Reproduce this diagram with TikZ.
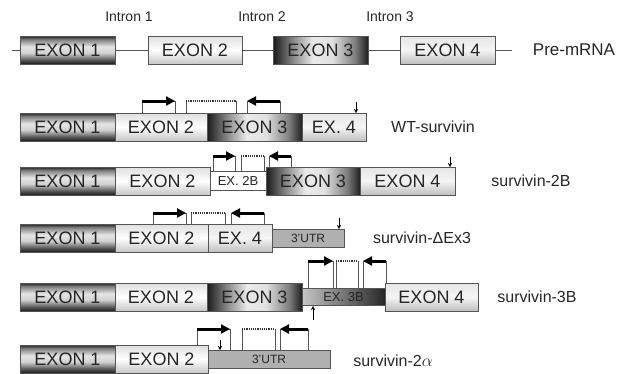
\documentclass[tikz,border=0pt]{standalone}
\usepackage{fontspec}
\setmainfont{Liberation Sans}
\usetikzlibrary{arrows.meta,positioning}
\definecolor{inkgray}{HTML}{262626}
\definecolor{linegray}{HTML}{555555}
\pgfdeclareverticalshading{exononeshade}{100bp}{color(0bp)=(black!90);
  color(25bp)=(black!90); color(31bp)=(black!70); color(45bp)=(white!82!black);
  color(56bp)=(white!90!black); color(69bp)=(black!50); color(75bp)=(black!88);
  color(100bp)=(black!88)}
\pgfdeclarehorizontalshading{exonthreeshade}{100bp}{color(0bp)=(black!90);
  color(25bp)=(black!90); color(36bp)=(black!45); color(46bp)=(white!92!black);
  color(56bp)=(white!88!black); color(68bp)=(black!50); color(75bp)=(black!88);
  color(100bp)=(black!88)}

\begin{document}
\begin{tikzpicture}[x=1pt, y=-1pt,
  exbox/.style={
    rectangle, draw=linegray, thin, outer sep=0pt, inner sep=0pt,
    minimum height=28pt, text=inkgray,
    font=\fontsize{18}{18}\selectfont
  },
  exone/.style={exbox, minimum width=95pt, shade, shading=exononeshade},
  extwo/.style={exbox, minimum width=93pt,
    top color=gray!25, bottom color=gray!45, middle color=white},
  exthree/.style={exbox, minimum width=95pt, shade, shading=exonthreeshade},
  exfour/.style={exbox, minimum width=94pt,
    top color=gray!20, bottom color=gray!50, middle color=gray!8},
  smallex/.style={exbox, minimum height=18pt,
    font=\fontsize{13}{13}\selectfont},
  utr/.style={exbox, minimum height=18pt, fill=gray!62,
    font=\fontsize{12}{12}\selectfont},
  lbl/.style={font=\fontsize{16}{16}\selectfont, text=inkgray},
  intronlbl/.style={font=\fontsize{14}{14}\selectfont, text=inkgray},
  intron/.style={linegray, thin},
  bracket/.style={linegray, thin},
  primer/.style={-{Triangle[length=9pt,width=9pt]}, line width=3pt, black},
  gap/.style={black!80, line width=1.3pt, dash pattern=on 1.2pt off 1pt},
  site/.style={-{Stealth[length=4pt,width=4pt]}, thin, black}
]
\useasboundingbox (0,0) rectangle (624,373);

%=== PRE-mRNA ===
\node[intronlbl] (i1) at (129,17) {Intron 1};
\node[intronlbl] (i2) at (262,17) {Intron 2};
\node[intronlbl] (i3) at (390,17) {Intron 3};
\coordinate (pstart) at (12,50);
\coordinate (pend) at (512,50);
\node[exone, anchor=west] (p1) at (20,50) {EXON 1};
\node[extwo, minimum width=94pt, anchor=west] (p2) at (148,50) {EXON 2};
\node[exthree, anchor=west] (p3) at (273,50) {EXON 3};
\node[exfour, minimum width=95pt, anchor=west] (p4) at (400,50) {EXON 4};
\draw[intron] (pstart) -- (p1.west);
\draw[intron] (p1) -- (p2);
\draw[intron] (p2) -- (p3);
\draw[intron] (p3) -- (p4);
\draw[intron] (p4.east) -- (pend);
\node[lbl, font=\fontsize{17}{17}\selectfont] (pre) at (574,50) {Pre-mRNA};

%=== WT-SURVIVIN ===
\node[exone, anchor=west] (w1) at (20,127) {EXON 1};
\node[extwo, minimum width=92pt, right=0pt of w1] (w2) {EXON 2};
\node[exthree, right=0pt of w2] (w3) {EXON 3};
\node[exfour, minimum width=64pt, right=0pt of w3] (w4) {EX. 4};
\node[lbl] (wl) at (433,127) {WT-survivin};
\draw[bracket] (142,113) |- (175,101) -- (175,113);
\draw[primer] (142,101) -- (175,101);
\draw[bracket] (186,113) -- (186,101);
\draw[bracket] (236,113) -- (236,101);
\draw[gap] (186,101) -- (236,101);
\draw[bracket] (247,113) |- (280,101) -- (280,113);
\draw[primer] (280,101) -- (247,101);
\draw[site] (356,102) -- (356,113);

%=== SURVIVIN-2B ===
\node[exone, anchor=west] (a1) at (20,181) {EXON 1};
\node[extwo, minimum width=95pt, right=0pt of a1] (a2) {EXON 2};
\node[smallex, fill=white, minimum width=56pt, minimum height=19pt,
  right=0pt of a2] (a2b) {EX. 2B};
\node[exthree, minimum width=94pt, right=0pt of a2b] (a3) {EXON 3};
\node[exfour, minimum width=95pt, right=0pt of a3] (a4) {EXON 4};
\node[lbl] (al) at (531,181) {survivin-2B};
\draw[bracket] (213,172) |- (235,156) -- (235,172);
\draw[primer] (213,156) -- (235,156);
\draw[bracket] (241,172) -- (241,156);
\draw[bracket] (264,172) -- (264,156);
\draw[gap] (241,156) -- (264,156);
\draw[bracket] (269,167) |- (291,156) -- (291,167);
\draw[primer] (291,156) -- (269,156);
\draw[site] (450,157) -- (450,167);

%=== SURVIVIN-DELTA-EX3 ===
\node[exone, anchor=west] (d1) at (20,238) {EXON 1};
\node[extwo, minimum width=93pt, right=0pt of d1] (d2) {EXON 2};
\node[exfour, minimum width=64pt, right=0pt of d2] (d4) {EX. 4};
\node[utr, minimum width=72pt, right=0pt of d4] (du) {3'UTR};
\node[lbl] (dl) at (422,238) {survivin-ΔEx3};
\draw[bracket] (153,224) |- (186,213) -- (186,224);
\draw[primer] (153,213) -- (186,213);
\draw[bracket] (191,224) -- (191,213);
\draw[bracket] (225,224) -- (225,213);
\draw[gap] (191,213) -- (225,213);
\draw[bracket] (231,224) |- (264,213) -- (264,224);
\draw[primer] (264,213) -- (231,213);
\draw[site] (339,218) -- (339,229);

%=== SURVIVIN-3B ===
\node[exone, anchor=west] (b1) at (20,297) {EXON 1};
\node[extwo, minimum width=92pt, right=0pt of b1] (b2) {EXON 2};
\node[exthree, right=0pt of b2] (b3) {EXON 3};
\node[smallex, minimum width=83pt, minimum height=17pt,
  left color=gray!45, middle color=white, right color=black!85,
  right=0pt of b3] (b3b) {EX. 3B};
\node[exfour, minimum width=93pt, right=0pt of b3b] (b4) {EXON 4};
\node[lbl] (bl) at (537,297) {survivin-3B};
\draw[bracket] (308,288) |- (333,261) -- (333,288);
\draw[primer] (308,261) -- (333,261);
\draw[bracket] (336,288) -- (336,261);
\draw[bracket] (358,288) -- (358,261);
\draw[gap] (336,261) -- (358,261);
\draw[bracket] (363,288) |- (386,261) -- (386,283);
\draw[primer] (386,261) -- (363,261);
\draw[site] (313,320) -- (313,306);

%=== SURVIVIN-2-ALPHA ===
\node[exone, anchor=west] (c1) at (20,359) {EXON 1};
\node[extwo, minimum width=93pt, right=0pt of c1] (c2) {EXON 2};
\node[utr, minimum width=122pt, right=0pt of c2] (cu) {3'UTR};
\node[lbl] (cl) at (393,361) {survivin-2$\alpha$};
\draw[bracket] (197,345) |- (230,329) -- (230,350);
\draw[primer] (197,329) -- (230,329);
\draw[bracket] (242,350) -- (242,329);
\draw[bracket] (275,350) -- (275,329);
\draw[gap] (242,329) -- (275,329);
\draw[bracket] (280,350) |- (308,329) -- (308,350);
\draw[primer] (308,329) -- (280,329);
\draw[site] (220,340) -- (220,350);

\end{tikzpicture}
\end{document}
